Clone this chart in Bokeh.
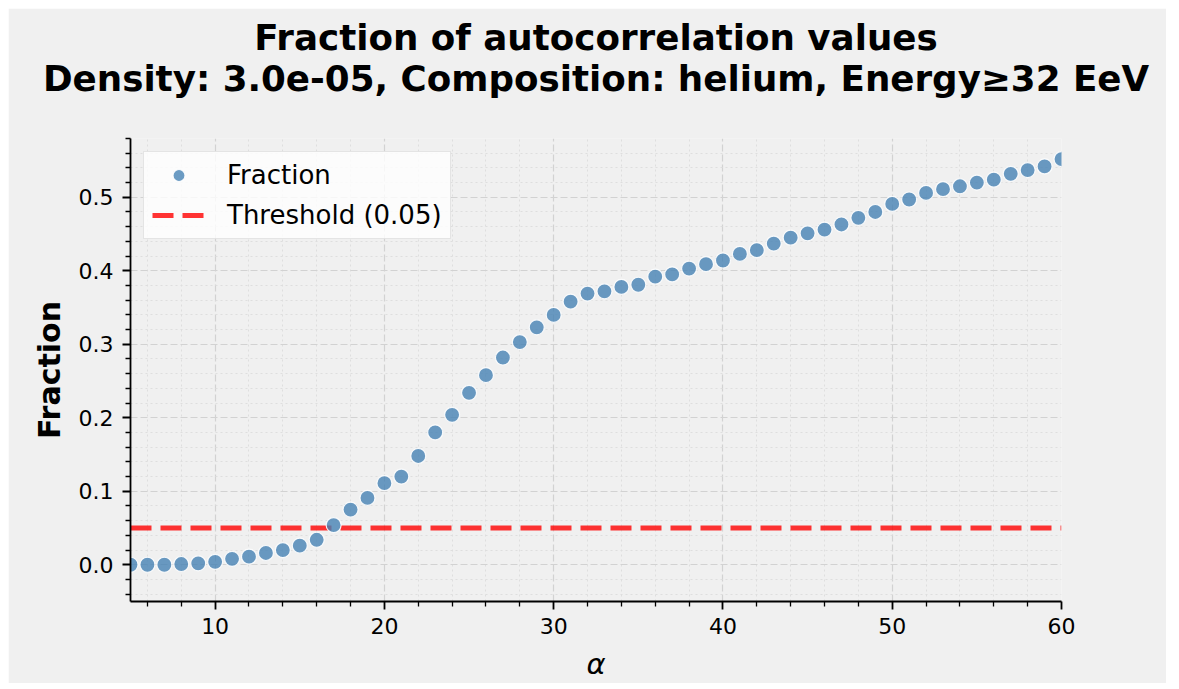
from bokeh.plotting import figure
from bokeh.models import (Range1d, FixedTicker, PrintfTickFormatter, Legend,
                          LegendItem, Title, ColumnDataSource)
from bokeh.embed import file_html
from bokeh.resources import INLINE

# ---- data ----
alpha = [5, 6, 7, 8, 9, 10, 11, 12, 13, 14, 15, 16, 17, 18, 19, 20, 21, 22, 23, 24,
         25, 26, 27, 28, 29, 30, 31, 32, 33, 34, 35, 36, 37, 38, 39, 40, 41, 42, 43, 44,
         45, 46, 47, 48, 49, 50, 51, 52, 53, 54, 55, 56, 57, 58, 59, 60]
fraction = [0.000, 0.000, 0.000, 0.001, 0.002, 0.004, 0.008, 0.011, 0.016, 0.020,
            0.026, 0.034, 0.054, 0.075, 0.091, 0.111, 0.120, 0.148, 0.180, 0.204,
            0.234, 0.258, 0.282, 0.303, 0.323, 0.340, 0.358, 0.369, 0.372, 0.378,
            0.381, 0.392, 0.395, 0.403, 0.409, 0.414, 0.423, 0.428, 0.437, 0.445,
            0.451, 0.456, 0.463, 0.472, 0.480, 0.491, 0.497, 0.506, 0.511, 0.515,
            0.520, 0.524, 0.532, 0.537, 0.542, 0.552]
threshold = 0.05
title_lines = ["Fraction of autocorrelation values",
               "Density: 3.0e-05, Composition: helium, Energy\u226532 EeV"]
x_ticks = [10, 20, 30, 40, 50, 60]
x_minor = [6, 8, 12, 14, 16, 18, 22, 24, 26, 28, 32, 34, 36, 38, 42, 44, 46, 48,
           52, 54, 56, 58]
y_ticks = [0.0, 0.1, 0.2, 0.3, 0.4, 0.5]
y_minor = [-0.04, -0.02, 0.02, 0.04, 0.06, 0.08, 0.12, 0.14, 0.16, 0.18, 0.22, 0.24,
           0.26, 0.28, 0.32, 0.34, 0.36, 0.38, 0.42, 0.44, 0.46, 0.48, 0.52, 0.54,
           0.56, 0.58]
x_label = "\u03b1"
y_label = "Fraction"
legend_labels = ["Fraction", "Threshold (0.05)"]

FONT = "DejaVu Sans"
BG = "#f0f0f0"

p = figure(title=None, frame_width=931, frame_height=463,
           x_range=Range1d(5, 60), y_range=Range1d(-0.05, 0.58),
           output_backend="svg", toolbar_location=None,
           background_fill_color=BG, border_fill_color=BG,
           min_border_left=122, min_border_right=105, min_border_bottom=80,
           min_border_top=130)
p.margin = (8, 8, 8, 8)
p.outline_line_color = None

# above panels, from the frame outward: spacer, title line 2, title line 1
p.add_layout(Title(text=" ", text_font=FONT, text_font_size="10px",
                   standoff=32), "above")
p.add_layout(Title(text=title_lines[1], align="center", text_font=FONT,
                   text_font_size="35.7px", text_font_style="bold",
                   text_color="black", standoff=-11), "above")
p.add_layout(Title(text=title_lines[0], align="center", text_font=FONT,
                   text_font_size="35.7px", text_font_style="bold",
                   text_color="black", standoff=8), "above")

src = ColumnDataSource(data=dict(alpha=alpha, fraction=fraction))

r_line = p.line(x=[alpha[0], alpha[-1]], y=[threshold, threshold],
                line_color="red", line_alpha=0.8, line_width=5, line_dash="21 9")
r_pts = p.scatter(x="alpha", y="fraction", source=src, marker="circle", size=15,
                  fill_color="steelblue", fill_alpha=0.8,
                  line_color="white", line_alpha=0.9, line_width=1.2)

for ax in (p.xaxis[0], p.yaxis[0]):
    ax.axis_line_color = "black"
    ax.axis_line_width = 1.8
    ax.major_tick_line_color = "black"
    ax.major_tick_line_width = 1.8
    ax.major_tick_out = 8
    ax.major_tick_in = 0
    ax.minor_tick_line_color = "black"
    ax.minor_tick_line_width = 1.3
    ax.minor_tick_out = 5
    ax.minor_tick_in = 0
    ax.major_label_text_font = FONT
    ax.major_label_text_font_size = "22px"
    ax.major_label_text_color = "black"
    ax.axis_label_text_font = FONT
    ax.axis_label_text_color = "black"

p.xaxis.ticker = FixedTicker(ticks=x_ticks, minor_ticks=x_minor)
p.yaxis.ticker = FixedTicker(ticks=y_ticks, minor_ticks=y_minor)
p.xaxis.formatter = PrintfTickFormatter(format="%d")
p.yaxis.formatter = PrintfTickFormatter(format="%.1f")
p.xaxis.major_label_standoff = 8
p.yaxis.major_label_standoff = 9

p.xaxis.axis_label = x_label
p.xaxis.axis_label_text_font_size = "29px"
p.xaxis.axis_label_text_font_style = "italic"
p.xaxis.axis_label_standoff = 10
p.yaxis.axis_label = y_label
p.yaxis.axis_label_text_font_size = "30px"
p.yaxis.axis_label_text_font_style = "bold"
p.yaxis.axis_label_standoff = 9

for g in (p.xgrid[0], p.ygrid[0]):
    g.grid_line_color = "#d2d2d2"
    g.grid_line_width = 1.2
    g.grid_line_dash = "7 3"
    g.minor_grid_line_color = "#dedede"
    g.minor_grid_line_width = 1.0
    g.minor_grid_line_dash = "2 3"

legend = Legend(items=[LegendItem(label=legend_labels[0], renderers=[r_pts]),
                       LegendItem(label=legend_labels[1], renderers=[r_line])],
                location="top_left", margin=13, padding=8, spacing=10,
                glyph_width=53, glyph_height=30, label_height=30,
                label_standoff=22,
                label_text_font=FONT, label_text_font_size="26px",
                label_text_color="black",
                background_fill_color="white", background_fill_alpha=0.8,
                border_line_color="#cccccc", border_line_width=1.5)
p.add_layout(legend)

open("out.html", "w").write(file_html(p, INLINE))
